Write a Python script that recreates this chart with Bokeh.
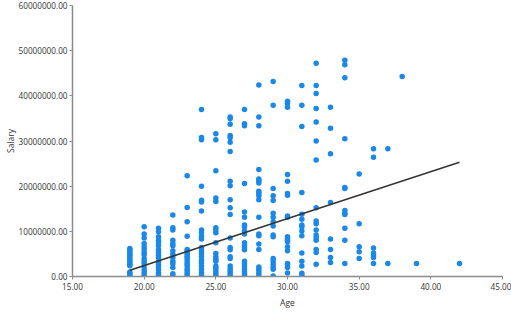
from bokeh.plotting import figure
from bokeh.models import NumeralTickFormatter, ColumnDataSource, FixedTicker
from bokeh.embed import file_html
from bokeh.resources import INLINE

# Data (salary in millions)
age_groups = [19, 20, 21, 22, 23, 24, 25, 26, 27, 28, 29, 30, 31, 32, 33, 34, 35, 36, 37, 38, 39, 42]
salaries_m = [
    [6.2, 5.9, 5.5, 5.1, 4.7, 4.3, 3.9, 3.5, 3.1, 2.7, 2.4, 1.0, 0.6, 0.3],
    [11.0, 9.4, 8.5, 7.3, 6.6, 6.0, 5.3, 4.8, 4.0, 3.4, 2.8, 2.1, 1.4, 0.8, 0.3],
    [10.7, 9.9, 8.8, 8.0, 7.5, 6.8, 5.9, 5.3, 4.7, 4.2, 3.3, 2.7, 2.1, 1.5, 0.8, 0.3],
    [13.6, 10.8, 10.3, 8.0, 7.3, 6.8, 5.7, 4.9, 4.2, 3.4, 2.8, 2.0, 0.6, 0.1],
    [22.3, 15.3, 12.1, 8.9, 6.0, 5.6, 5.1, 4.6, 4.2, 3.7, 3.2, 2.7, 2.2, 1.6, 1.1, 0.6, 0.2],
    [37.0, 30.8, 30.3, 20.0, 16.9, 16.5, 14.5, 10.3, 9.7, 8.9, 8.3, 6.4, 5.7, 5.1, 4.4, 3.6, 3.0, 2.3, 1.6, 0.9, 0.3],
    [31.6, 30.3, 23.4, 17.4, 16.6, 10.8, 10.3, 9.7, 7.5, 5.1, 4.3, 3.8, 3.4, 2.3, 1.8, 1.2, 0.8, 0.3],
    [35.3, 34.9, 33.7, 31.2, 30.7, 29.7, 27.7, 21.1, 20.1, 17.0, 15.2, 13.7, 8.5, 6.4, 5.9, 4.4, 4.0, 2.3, 1.7, 1.2, 0.7, 0.2],
    [37.0, 33.8, 33.4, 20.6, 14.3, 13.1, 11.4, 11.0, 10.1, 9.4, 7.5, 7.0, 6.4, 5.9, 3.4, 2.8, 2.2, 1.6, 1.0, 0.5, 0.1],
    [42.4, 35.3, 33.4, 23.7, 21.6, 21.2, 20.7, 18.9, 18.4, 17.9, 17.0, 13.1, 9.4, 9.0, 7.2, 6.0, 2.1, 1.6, 1.0, 0.4],
    [43.2, 37.9, 19.5, 17.9, 16.8, 14.0, 13.1, 12.1, 11.2, 9.2, 8.8, 4.0, 3.4, 2.7, 2.1, 1.6, 0.1],
    [38.8, 38.3, 37.5, 22.6, 21.1, 18.4, 18.0, 13.4, 13.1, 8.8, 8.4, 8.0, 7.7, 6.6, 5.7, 2.9, 2.6, 2.0, 0.8],
    [42.3, 37.9, 33.2, 18.6, 13.8, 12.7, 11.4, 11.0, 10.1, 9.0, 5.2, 3.4, 2.3, 0.7, 0.3],
    [47.2, 42.3, 40.5, 37.2, 34.2, 30.0, 25.8, 15.2, 12.3, 11.7, 10.3, 9.2, 8.6, 8.0, 6.0, 5.3, 2.7],
    [37.5, 32.8, 27.2, 16.4, 8.3, 6.0, 4.2, 3.1],
    [47.9, 46.9, 44.0, 30.5, 19.7, 19.5, 14.6, 14.0, 13.7, 10.7, 8.0, 2.9],
    [22.7, 11.7, 6.6, 5.5, 4.0],
    [28.3, 26.4, 6.3, 5.2, 4.7, 4.2, 2.9],
    [28.3, 2.9],
    [44.3],
    [2.9],
    [2.9],
]

trend_age = [19, 42]
trend_salary = [1.4e6, 25.3e6]

x_ticks = [15, 20, 25, 30, 35, 40, 45]
y_ticks = [0, 10e6, 20e6, 30e6, 40e6, 50e6, 60e6]

xs, ys = [], []
for a, vals in zip(age_groups, salaries_m):
    for v in vals:
        xs.append(a)
        ys.append(v * 1e6)

src = ColumnDataSource(dict(age=xs, salary=ys))

p = figure(width=511, height=315, output_backend="svg", toolbar_location=None,
           x_range=(15, 45), y_range=(0, 60e6),
           min_border_left=72, min_border_right=9, min_border_top=5, min_border_bottom=39)
p.outline_line_color = None
p.xgrid.visible = False
p.ygrid.visible = False
p.background_fill_color = "white"
p.border_fill_color = "white"

p.scatter("age", "salary", source=src, size=5.5, color="#1a88e8", line_color=None)
p.line(trend_age, trend_salary, line_color="#333333", line_width=1.5)

FONT = "Open Sans"
for ax in (p.xaxis[0], p.yaxis[0]):
    ax.formatter = NumeralTickFormatter(format="0.00")
    ax.axis_line_color = "#8c8c8c"
    ax.axis_line_width = 1.5
    ax.major_tick_line_color = "#8c8c8c"
    ax.major_tick_out = 3
    ax.major_tick_in = 0
    ax.minor_tick_line_color = None
    ax.major_label_text_font = FONT
    ax.major_label_text_font_size = "8.2px"
    ax.major_label_text_color = "#333333"
    ax.axis_label_text_font = FONT
    ax.axis_label_text_font_size = "8.5px"
    ax.axis_label_text_font_style = "normal"
    ax.axis_label_text_color = "#333333"
    ax.major_label_standoff = 3

p.yaxis[0].major_label_standoff = 2
p.xaxis[0].ticker = FixedTicker(ticks=x_ticks)
p.yaxis[0].ticker = FixedTicker(ticks=y_ticks)
p.xaxis[0].axis_label = "Age"
p.yaxis[0].axis_label = "Salary"
p.xaxis[0].axis_label_standoff = 4
p.yaxis[0].axis_label_standoff = 0

open("out.html", "w").write(file_html(p, INLINE))
